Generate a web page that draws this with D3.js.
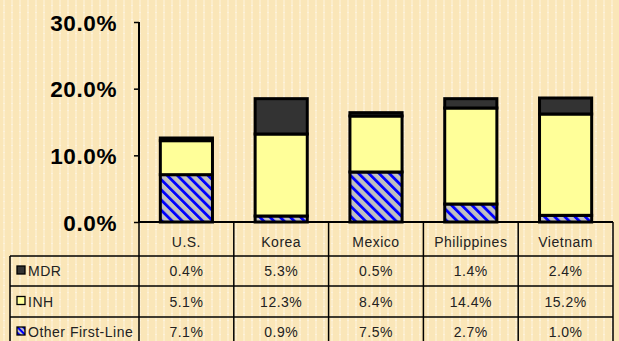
<!DOCTYPE html>
<html>
<head>
<meta charset="utf-8">
<script src="https://cdn.jsdelivr.net/npm/d3@7"></script>
<style>
  html, body { margin: 0; padding: 0; background: #FAE6B8; }
  svg { display: block; }
</style>
</head>
<body>
<svg id="chart" width="619" height="341"></svg>
<script>
// Share of cases by resistance type, per country
const categories = ["U.S.", "Korea", "Mexico", "Philippines", "Vietnam"];
const otherFirstLine = [7.1, 0.9, 7.5, 2.7, 1.0];
const inh = [5.1, 12.3, 8.4, 14.4, 15.2];
const mdr = [0.4, 5.3, 0.5, 1.4, 2.4];
const seriesNames = ["MDR", "INH", "Other First-Line"];
const yTicks = [0, 10, 20, 30];

const W = 619, H = 341;
const svg = d3.select("#chart");
const defs = svg.append("defs");

// paper texture: faint lighter vertical bands
const bgPat = defs.append("pattern").attr("id", "paper")
  .attr("patternUnits", "userSpaceOnUse").attr("width", 8).attr("height", 7);
bgPat.append("rect").attr("width", 8).attr("height", 7).attr("fill", "#FAE6B8");
bgPat.append("rect").attr("x", 3).attr("y", 0).attr("width", 2).attr("height", 7).attr("fill", "#FCEDCB");
bgPat.append("rect").attr("x", 3).attr("y", 5).attr("width", 2).attr("height", 1).attr("fill", "#FDF3DC");

// blue diagonal hatch over grey
const hatch = defs.append("pattern").attr("id", "hatch")
  .attr("patternUnits", "userSpaceOnUse").attr("width", 7.2).attr("height", 7.2)
  .attr("patternTransform", "rotate(-45)");
hatch.append("rect").attr("width", 7.2).attr("height", 7.2).attr("fill", "#C0C0C0");
hatch.append("rect").attr("x", 0).attr("y", 0).attr("width", 2.8).attr("height", 7.2).attr("fill", "#0000FF");

// small legend hatch
const hatchSmall = defs.append("pattern").attr("id", "hatchSmall")
  .attr("patternUnits", "userSpaceOnUse").attr("width", 4).attr("height", 4)
  .attr("patternTransform", "rotate(-45)");
hatchSmall.append("rect").attr("width", 4).attr("height", 4).attr("fill", "#C0C0C0");
hatchSmall.append("rect").attr("width", 2).attr("height", 4).attr("fill", "#0000FF");

svg.append("rect").attr("width", W).attr("height", H).attr("fill", "url(#paper)");

const x = d3.scaleBand().domain(categories).range([139, 613]).paddingInner(0).paddingOuter(0);
const y = d3.scaleLinear().domain([0, 30]).range([222, 22]);

const fills = { "Other First-Line": "url(#hatch)", "INH": "#FFFF99", "MDR": "#333333" };

// stacked bars
const rows = categories.map((c, i) => ({
  cat: c, "Other First-Line": otherFirstLine[i], "INH": inh[i], "MDR": mdr[i]
}));
const stack = d3.stack().keys(["Other First-Line", "INH", "MDR"]);
const stacked = stack(rows);
const barW = x.bandwidth() * 0.55;

const gBars = svg.append("g");
stacked.forEach(layer => {
  gBars.selectAll(null).data(layer).enter().append("rect")
    .attr("x", d => x(d.data.cat) + (x.bandwidth() - barW) / 2)
    .attr("y", d => y(d[1]))
    .attr("width", barW)
    .attr("height", d => y(d[0]) - y(d[1]))
    .attr("fill", fills[layer.key])
    .attr("stroke", "#000")
    .attr("stroke-width", 3)
    .attr("stroke-linejoin", "miter");
});

// y axis
const yAxis = d3.axisLeft(y).tickValues(yTicks).tickSize(5).tickFormat(d => d.toFixed(1) + "%");
const gy = svg.append("g").attr("transform", "translate(139,0)").call(yAxis);
gy.select(".domain").attr("stroke", "#000").attr("stroke-width", 2).attr("d", "M0,22V222");
gy.selectAll(".tick line").attr("stroke", "#000").attr("stroke-width", 1.5);
gy.selectAll(".tick text")
  .attr("x", -22)
  .attr("dy", "0.36em")
  .attr("fill", "#000")
  .style("font-family", "'Liberation Sans', Arial, sans-serif")
  .style("font-weight", "bold")
  .style("font-size", "22.5px")
  .style("letter-spacing", "0.6px");

// data table below the plot
const rowTops = [222, 256, 286, 317];
const tbl = svg.append("g");
const lineAttrs = sel => sel.attr("stroke", "#000").attr("stroke-width", 1.5);

// horizontal rules
tbl.append("line").attr("x1", 139).attr("x2", 613).attr("y1", 222).attr("y2", 222).call(lineAttrs).attr("stroke-width", 2);
[256, 286, 317].forEach(yy => {
  tbl.append("line").attr("x1", 10).attr("x2", 613).attr("y1", yy).attr("y2", yy).call(lineAttrs);
});
// vertical rules
tbl.append("line").attr("x1", 10).attr("x2", 10).attr("y1", 256).attr("y2", H).call(lineAttrs);
const bounds = categories.map(c => x(c)).concat([x.range()[1]]);
bounds.forEach(bx => {
  tbl.append("line").attr("x1", bx).attr("x2", bx).attr("y1", 222).attr("y2", H).call(lineAttrs);
});

const txt = sel => sel
  .style("font-family", "'Liberation Sans', Arial, sans-serif")
  .style("font-size", "14px")
  .style("letter-spacing", "0.5px")
  .attr("fill", "#222");

// category header
tbl.selectAll(null).data(categories).enter().append("text")
  .attr("x", d => x(d) + x.bandwidth() / 2)
  .attr("y", 242)
  .attr("dy", "0.36em")
  .attr("text-anchor", "middle")
  .text(d => d)
  .call(txt);

// value rows
const rowValues = [mdr, inh, otherFirstLine];
seriesNames.forEach((name, r) => {
  const cy = (rowTops[r + 1] + (rowTops[r + 2] || 347)) / 2;
  const swFill = name === "Other First-Line" ? "url(#hatchSmall)" : fills[name];
  tbl.append("rect").attr("x", 17).attr("y", cy - 5).attr("width", 8).attr("height", 8)
    .attr("fill", swFill).attr("stroke", "#000").attr("stroke-width", 1.3);
  tbl.append("text").attr("x", 28).attr("y", cy).attr("dy", "0.36em")
    .text(name).call(txt);
  tbl.selectAll(null).data(rowValues[r]).enter().append("text")
    .attr("x", (d, i) => x(categories[i]) + x.bandwidth() / 2)
    .attr("y", cy)
    .attr("dy", "0.36em")
    .attr("text-anchor", "middle")
    .text(d => d.toFixed(1) + "%")
    .call(txt);
});
</script>
</body>
</html>
